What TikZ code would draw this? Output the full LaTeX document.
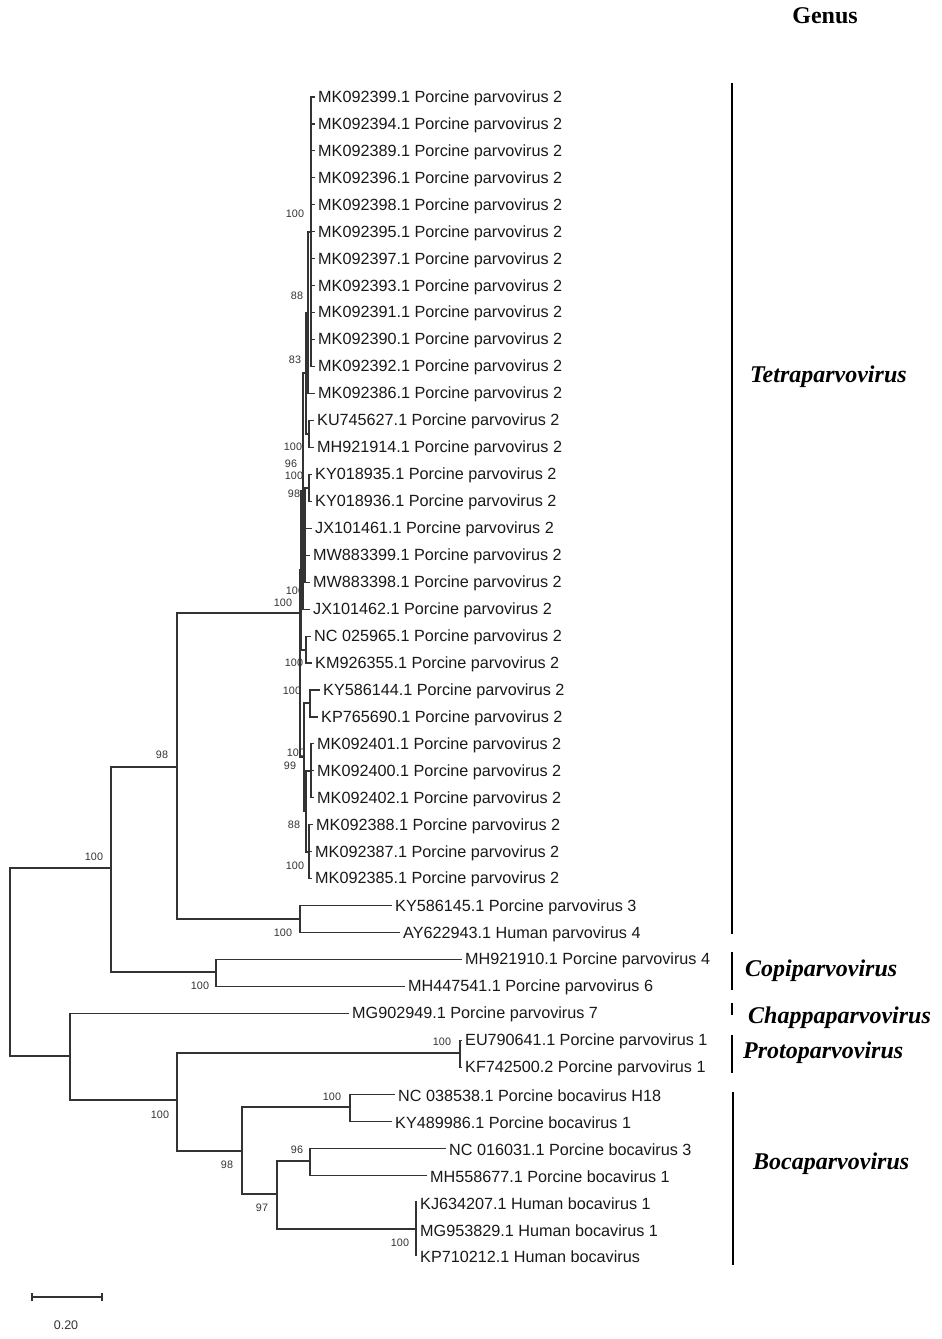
\documentclass[tikz,border=0pt]{standalone}
\usepackage{fontspec}
\setmainfont{Liberation Sans}
\newfontfamily\tnr{Liberation Serif}
\begin{document}
\begin{tikzpicture}[x=1pt,y=-1pt,
  br/.style={draw=black!80,line width=1.1pt},
  tip/.style={anchor=west,inner xsep=3pt,inner ysep=0pt,yshift=-1.2pt,text=black!90,font=\fontsize{16.2}{16.2}\selectfont},
  bs/.style={inner sep=0pt,text=black!80,font=\fontsize{10.8}{10.8}\selectfont},
  genbar/.style={draw=black,line width=1.8pt},
  gen/.style={anchor=west,inner sep=0pt,font=\tnr\bfseries\itshape\fontsize{24}{24}\selectfont}]
\useasboundingbox (0,0) rectangle (942,1339);

% ---------------- tips (line ends) ----------------
\foreach \i in {1,...,11} { \coordinate (r\i) at (315,{97+(\i-1)*26.95}); }
\coordinate (r12) at (315,393.5);
\coordinate (r13) at (314,420.5);
\coordinate (r14) at (314,447.4);
\coordinate (r15) at (312,474.4);
\coordinate (r16) at (312,501.4);
\coordinate (r17) at (312,528.3);
\coordinate (r18) at (310,555.2);
\coordinate (r19) at (310,582.2);
\coordinate (r20) at (310,609.1);
\coordinate (r21) at (311,636.1);
\coordinate (r22) at (312,663.0);
\coordinate (r23) at (320,690.0);
\coordinate (r24) at (318,717.0);
\coordinate (r25) at (314,743.9);
\coordinate (r26) at (314,770.8);
\coordinate (r27) at (314,797.8);
\coordinate (r28) at (313,824.8);
\coordinate (r29) at (312,851.7);
\coordinate (r30) at (312,878.6);
\coordinate (r31) at (392,905.6);
\coordinate (r32) at (400,932.6);
\coordinate (r33) at (462,959.5);
\coordinate (r34) at (405,986.4);
\coordinate (r35) at (349,1013.4);
\coordinate (r36) at (462,1040.4);
\coordinate (r37) at (462,1067.3);
\coordinate (r38) at (395,1094.2);
\coordinate (r39) at (392,1121.2);
\coordinate (r40) at (446,1148.2);
\coordinate (r41) at (427,1175.1);
\coordinate (r42) at (417,1202.0);
\coordinate (r43) at (417,1229.0);
\coordinate (r44) at (417,1255.9);

% ---------------- internal nodes ----------------
\coordinate (T1) at (311,232);
\coordinate (T2) at (308,313);
\coordinate (T3) at (309,434);
\coordinate (T4) at (306,373);
\coordinate (T5) at (309,488);
\coordinate (T6) at (305,535);
\coordinate (T7) at (303,491);
\coordinate (T8) at (306,650);
\coordinate (T9) at (301,570);
\coordinate (T10) at (310,703);
\coordinate (T11) at (311,771);
\coordinate (T12) at (309,852);
\coordinate (T13) at (306,811);
\coordinate (T14) at (304,757);
\coordinate (P) at (300,613);
\coordinate (A1b) at (300,919);
\coordinate (A1) at (177,767);
\coordinate (A2) at (216,972);
\coordinate (A) at (111,868);
\coordinate (R) at (10,960);
\coordinate (B) at (70,1056);
\coordinate (C) at (177,1100);
\coordinate (PR) at (460,1053);
\coordinate (D) at (242,1151);
\coordinate (D1) at (350,1107);
\coordinate (D2) at (277,1194);
\coordinate (D21) at (310,1161);
\coordinate (D22) at (416,1229);

% ---------------- branches ----------------
\foreach \i in {1,...,11} { \draw[br] (T1) |- (r\i); }
\draw[br] (T2) |- (T1); \draw[br] (T2) |- (r12);
\draw[br] (T3) |- (r13); \draw[br] (T3) |- (r14);
\draw[br] (T4) |- (T2); \draw[br] (T4) |- (T3);
\draw[br] (T5) |- (r15); \draw[br] (T5) |- (r16);
\draw[br] (T6) |- (T5); \draw[br] (T6) |- (r17); \draw[br] (T6) |- (r18); \draw[br] (T6) |- (r19);
\draw[br] (T7) |- (T4); \draw[br] (T7) |- (T6); \draw[br] (T7) |- (r20);
\draw[br] (T8) |- (r21); \draw[br] (T8) |- (r22);
\draw[br] (T9) |- (T7); \draw[br] (T9) |- (T8);
\draw[br] (T10) |- (r23); \draw[br] (T10) |- (r24);
\draw[br] (T11) |- (r25); \draw[br] (T11) |- (r26); \draw[br] (T11) |- (r27);
\draw[br] (T12) |- (r28); \draw[br] (T12) |- (r29); \draw[br] (T12) |- (r30);
\draw[br] (T13) |- (T11); \draw[br] (T13) |- (T12);
\draw[br] (T14) |- (T10); \draw[br] (T14) |- (T13);
\draw[br] (P) |- (T9); \draw[br] (P) |- (T14);
\draw[br] (A1b) |- (r31); \draw[br] (A1b) |- (r32);
\draw[br] (A1) |- (P); \draw[br] (A1) |- (A1b);
\draw[br] (A2) |- (r33); \draw[br] (A2) |- (r34);
\draw[br] (A) |- (A1); \draw[br] (A) |- (A2);
\draw[br] (R) |- (A); \draw[br] (R) |- (B);
\draw[br] (B) |- (r35); \draw[br] (B) |- (C);
\draw[br] (C) |- (PR); \draw[br] (C) |- (D);
\draw[br] (PR) |- (r36); \draw[br] (PR) |- (r37);
\draw[br] (D) |- (D1); \draw[br] (D) |- (D2);
\draw[br] (D1) |- (r38); \draw[br] (D1) |- (r39);
\draw[br] (D2) |- (D21); \draw[br] (D2) |- (D22);
\draw[br] (D21) |- (r40); \draw[br] (D21) |- (r41);
\draw[br] (D22) |- (r42); \draw[br] (D22) |- (r43); \draw[br] (D22) |- (r44);

% ---------------- tip labels ----------------
\node[tip] (l1) at (r1) {MK092399.1 Porcine parvovirus 2};
\node[tip] (l2) at (r2) {MK092394.1 Porcine parvovirus 2};
\node[tip] (l3) at (r3) {MK092389.1 Porcine parvovirus 2};
\node[tip] (l4) at (r4) {MK092396.1 Porcine parvovirus 2};
\node[tip] (l5) at (r5) {MK092398.1 Porcine parvovirus 2};
\node[tip] (l6) at (r6) {MK092395.1 Porcine parvovirus 2};
\node[tip] (l7) at (r7) {MK092397.1 Porcine parvovirus 2};
\node[tip] (l8) at (r8) {MK092393.1 Porcine parvovirus 2};
\node[tip] (l9) at (r9) {MK092391.1 Porcine parvovirus 2};
\node[tip] (l10) at (r10) {MK092390.1 Porcine parvovirus 2};
\node[tip] (l11) at (r11) {MK092392.1 Porcine parvovirus 2};
\node[tip] (l12) at (r12) {MK092386.1 Porcine parvovirus 2};
\node[tip] (l13) at (r13) {KU745627.1 Porcine parvovirus 2};
\node[tip] (l14) at (r14) {MH921914.1 Porcine parvovirus 2};
\node[tip] (l15) at (r15) {KY018935.1 Porcine parvovirus 2};
\node[tip] (l16) at (r16) {KY018936.1 Porcine parvovirus 2};
\node[tip] (l17) at (r17) {JX101461.1 Porcine parvovirus 2};
\node[tip] (l18) at (r18) {MW883399.1 Porcine parvovirus 2};
\node[tip] (l19) at (r19) {MW883398.1 Porcine parvovirus 2};
\node[tip] (l20) at (r20) {JX101462.1 Porcine parvovirus 2};
\node[tip] (l21) at (r21) {NC 025965.1 Porcine parvovirus 2};
\node[tip] (l22) at (r22) {KM926355.1 Porcine parvovirus 2};
\node[tip] (l23) at (r23) {KY586144.1 Porcine parvovirus 2};
\node[tip] (l24) at (r24) {KP765690.1 Porcine parvovirus 2};
\node[tip] (l25) at (r25) {MK092401.1 Porcine parvovirus 2};
\node[tip] (l26) at (r26) {MK092400.1 Porcine parvovirus 2};
\node[tip] (l27) at (r27) {MK092402.1 Porcine parvovirus 2};
\node[tip] (l28) at (r28) {MK092388.1 Porcine parvovirus 2};
\node[tip] (l29) at (r29) {MK092387.1 Porcine parvovirus 2};
\node[tip] (l30) at (r30) {MK092385.1 Porcine parvovirus 2};
\node[tip] (l31) at (r31) {KY586145.1 Porcine parvovirus 3};
\node[tip] (l32) at (r32) {AY622943.1 Human parvovirus 4};
\node[tip] (l33) at (r33) {MH921910.1 Porcine parvovirus 4};
\node[tip] (l34) at (r34) {MH447541.1 Porcine parvovirus 6};
\node[tip] (l35) at (r35) {MG902949.1 Porcine parvovirus 7};
\node[tip] (l36) at (r36) {EU790641.1 Porcine parvovirus 1};
\node[tip] (l37) at (r37) {KF742500.2 Porcine parvovirus 1};
\node[tip] (l38) at (r38) {NC 038538.1 Porcine bocavirus H18};
\node[tip] (l39) at (r39) {KY489986.1 Porcine bocavirus 1};
\node[tip] (l40) at (r40) {NC 016031.1 Porcine bocavirus 3};
\node[tip] (l41) at (r41) {MH558677.1 Porcine bocavirus 1};
\node[tip] (l42) at (r42) {KJ634207.1 Human bocavirus 1};
\node[tip] (l43) at (r43) {MG953829.1 Human bocavirus 1};
\node[tip] (l44) at (r44) {KP710212.1 Human bocavirus};

% ---------------- bootstrap values ----------------
\node[bs] (b1) at (295,214) {100};
\node[bs] (b2) at (297,296) {88};
\node[bs] (b3) at (295,360) {83};
\node[bs] (b4) at (293,447) {100};
\node[bs] (b5) at (291,464) {96};
\node[bs] (b6) at (294,476) {100};
\node[bs] (b7) at (294,494) {98};
\node[bs] (b8) at (295,591) {100};
\node[bs] (b9) at (283,603) {100};
\node[bs] (b10) at (294,663) {100};
\node[bs] (b11) at (292,691) {100};
\node[bs] (b12) at (296,753) {100};
\node[bs] (b13) at (290,766) {99};
\node[bs] (b14) at (294,825) {88};
\node[bs] (b15) at (295,866) {100};
\node[bs] (b16) at (162,755) {98};
\node[bs] (b17) at (94,857) {100};
\node[bs] (b18) at (283,933) {100};
\node[bs] (b19) at (200,986) {100};
\node[bs] (b20) at (160,1115) {100};
\node[bs] (b21) at (227,1165) {98};
\node[bs] (b22) at (262,1208) {97};
\node[bs] (b23) at (297,1150) {96};
\node[bs] (b24) at (332,1097) {100};
\node[bs] (b25) at (400,1243) {100};
\node[bs] (b26) at (442,1042) {100};

% ---------------- genus bars and names ----------------
\node[inner sep=0pt,font=\tnr\bfseries\fontsize{24}{24}\selectfont] (genus) at (825,16) {Genus};
\coordinate (g1a) at (732,83);   \coordinate (g1b) at (732,934);
\coordinate (g2a) at (732,952);  \coordinate (g2b) at (732,990);
\coordinate (g3a) at (732,1003); \coordinate (g3b) at (732,1015);
\coordinate (g4a) at (732,1035); \coordinate (g4b) at (732,1073);
\coordinate (g5a) at (733,1092); \coordinate (g5b) at (733,1265);
\draw[genbar] (g1a) -- (g1b);
\draw[genbar] (g2a) -- (g2b);
\draw[genbar] (g3a) -- (g3b);
\draw[genbar] (g4a) -- (g4b);
\draw[genbar] (g5a) -- (g5b);
\node[gen] (n1) at (750,377) {Tetraparvovirus};
\node[gen] (n2) at (745,971) {Copiparvovirus};
\node[gen] (n3) at (748,1018) {Chappaparvovirus};
\node[gen] (n4) at (743,1053) {Protoparvovirus};
\node[gen] (n5) at (753,1164) {Bocaparvovirus};

% ---------------- scale bar ----------------
\coordinate (s1) at (32,1297); \coordinate (s2) at (102,1297);
\draw[br] (s1) -- (s2);
\draw[br] ([yshift=-4pt]s1) -- ([yshift=4pt]s1);
\draw[br] ([yshift=-4pt]s2) -- ([yshift=4pt]s2);
\node[inner sep=0pt,text=black!80,font=\fontsize{12.5}{12.5}\selectfont] (scale) at (66,1325) {0.20};
\end{tikzpicture}
\end{document}
